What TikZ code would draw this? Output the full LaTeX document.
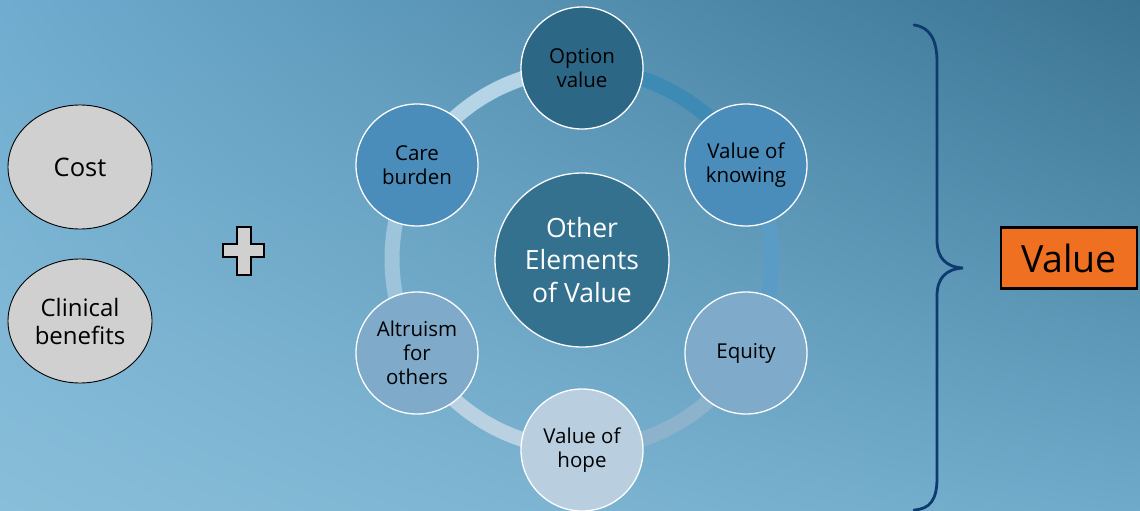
\documentclass[tikz,border=0pt]{standalone}
\usepackage{fontspec}
\setmainfont{Open Sans}
\usetikzlibrary{shapes.geometric,shadings}
\definecolor{bgUL}{HTML}{6FACCF}
\definecolor{bgUR}{HTML}{3A7392}
\definecolor{bgLL}{HTML}{89BED9}
\definecolor{bgLR}{HTML}{6FAACA}
\definecolor{cOpt}{HTML}{2D6786}
\definecolor{cCare}{HTML}{4A8CBA}
\definecolor{cKnow}{HTML}{4A8CBA}
\definecolor{cEq}{HTML}{80AACA}
\definecolor{cHope}{HTML}{B9CFE0}
\definecolor{cAlt}{HTML}{80AACA}
\definecolor{cCenter}{HTML}{33718F}
\definecolor{rA}{HTML}{3D8BB5}
\definecolor{rB}{HTML}{5B9CC6}
\definecolor{rC}{HTML}{8DB2CC}
\definecolor{rD}{HTML}{B9D1E0}
\definecolor{rE}{HTML}{9DC4DB}
\definecolor{rF}{HTML}{B5D5E7}
\definecolor{grayfill}{HTML}{D0D0D0}
\definecolor{brace}{HTML}{0E3A70}
\definecolor{valorange}{HTML}{EE7020}
\tikzset{
  elem/.style={circle, draw=white, line width=1.3pt, minimum size=122pt, inner sep=0pt,
    align=center, text=black, font=\fontsize{20.5}{24}\selectfont},
  oval/.style={ellipse, draw=black, line width=0.9pt, fill=grayfill, minimum width=144pt,
    minimum height=124pt, inner sep=0pt, align=center, font=\fontsize{24}{28}\selectfont},
  ringseg/.style={line width=15pt},
}
\begin{document}
\begin{tikzpicture}[x=1pt,y=-1pt]
\useasboundingbox (0,0) rectangle (1140,511);
\shade[upper left=bgUL, upper right=bgUR, lower left=bgLL, lower right=bgLR] (0,0) rectangle (1140,511);

% ring
\coordinate (rc) at (582,259);
\draw[ringseg, rA] (rc) ++(-90:190) arc[start angle=-90, end angle=-30, radius=190];
\draw[ringseg, rB] (rc) ++(-30:190) arc[start angle=-30, end angle=30, radius=190];
\draw[ringseg, rC] (rc) ++(30:190) arc[start angle=30, end angle=90, radius=190];
\draw[ringseg, rD] (rc) ++(90:190) arc[start angle=90, end angle=150, radius=190];
\draw[ringseg, rE] (rc) ++(150:190) arc[start angle=150, end angle=210, radius=190];
\draw[ringseg, rF] (rc) ++(210:190) arc[start angle=210, end angle=270, radius=190];

% elements
\node[elem, fill=cOpt] (opt) at (582,68) {Option\\value};
\node[elem, fill=cKnow] (know) at (746,165) {Value of\\knowing};
\node[elem, fill=cEq] (eq) at (746,353) {Equity};
\node[elem, fill=cHope] (hope) at (582,450) {Value of\\hope};
\node[elem, fill=cAlt] (alt) at (417,353) {Altruism\\for\\others};
\node[elem, fill=cCare] (care) at (417,165) {Care\\burden};
\node[circle, draw=white, line width=1.3pt, fill=cCenter, minimum size=174pt, inner sep=0pt,
  align=center, text=white, font=\fontsize{26.5}{32.5}\selectfont] (center) at (582,260) {Other\\Elements\\of Value};

% left ovals
\node[oval, font=\fontsize{25.5}{28}\selectfont] (cost) at (80,167) {Cost};
\node[oval] (clin) at (80,321) {Clinical\\benefits};

% plus
\draw[fill=grayfill, draw=black, line width=1.3pt]
  (237,227) -- (251,227) -- (251,244) -- (264,244) -- (264,257) -- (251,257) -- (251,275)
  -- (237,275) -- (237,257) -- (223,257) -- (223,244) -- (237,244) -- cycle;

% brace
\draw[brace, line width=2.8pt, line cap=round]
  (914,25) .. controls (930,27) and (937,40) .. (937,62) -- (937,240)
  .. controls (937,258) and (946,267) .. (963,268)
  .. controls (946,269) and (937,278) .. (937,296) -- (937,478)
  .. controls (937,500) and (930,509) .. (914,510);

% value box
\node[draw=black, line width=2.8pt, fill=valorange, minimum width=136pt, minimum height=61pt,
  inner sep=0pt, font=\fontsize{37.5}{45}\selectfont] (val) at (1069,258) {Value};
\end{tikzpicture}
\end{document}
